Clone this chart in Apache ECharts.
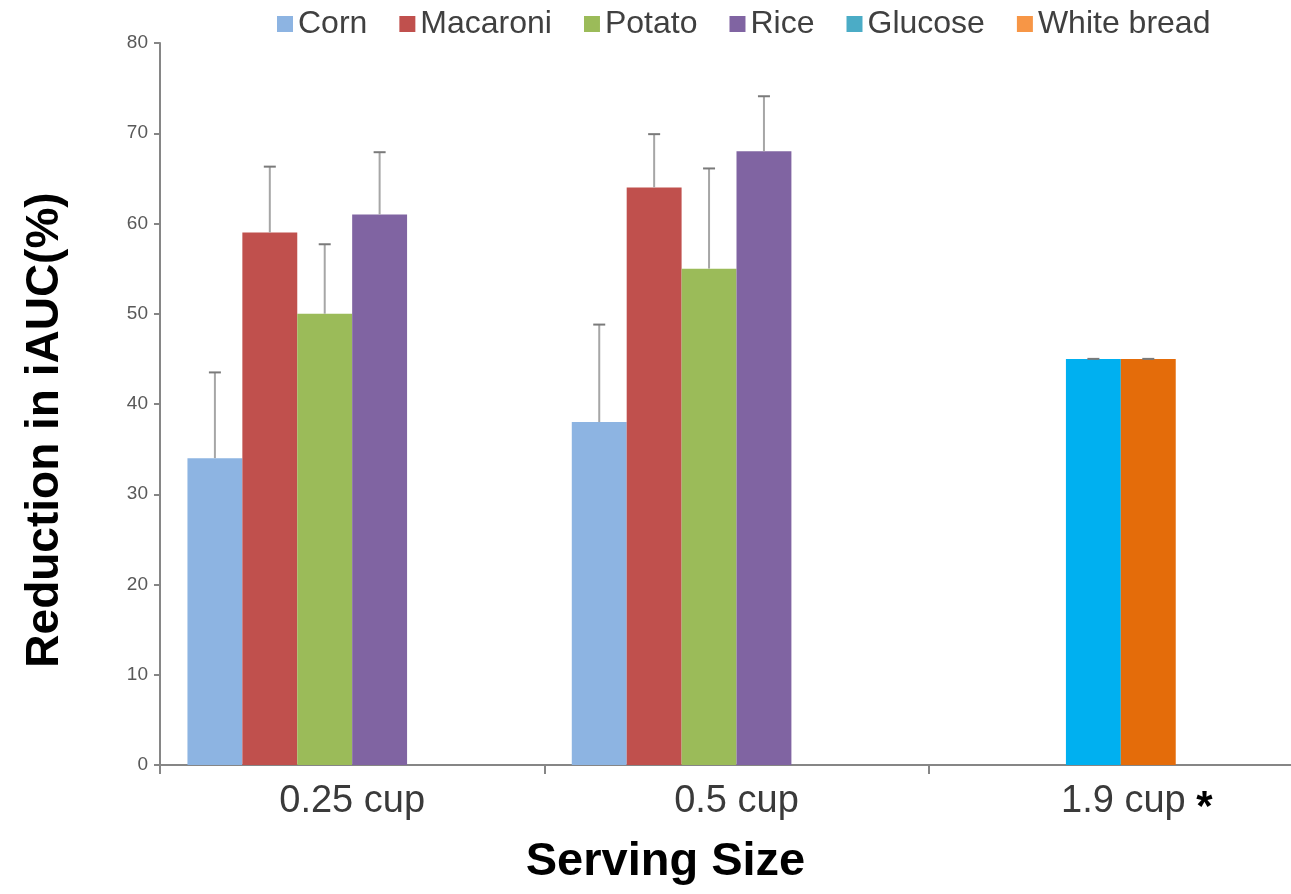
<!DOCTYPE html>
<html>
<head>
<meta charset="utf-8">
<script src="https://cdn.jsdelivr.net/npm/echarts@6/dist/echarts.min.js"></script>
<style>
  html, body { margin: 0; padding: 0; background: #ffffff; }
  #chart { width: 1291px; height: 894px; }
</style>
</head>
<body>
<div id="chart"></div>
<script>
// ---- data ----
const categories = ['0.25 cup', '0.5 cup', '1.9 cup *'];
const seriesNames = ['Corn', 'Macaroni', 'Potato', 'Rice', 'Glucose', 'White bread'];
const cornValues = [34, 38, null];
const cornErrors = [9.5, 10.8, null];
const macaroniValues = [59, 64, null];
const macaroniErrors = [7.3, 5.9, null];
const potatoValues = [50, 55, null];
const potatoErrors = [7.7, 11.1, null];
const riceValues = [61, 68, null];
const riceErrors = [6.9, 6.1, null];
const glucoseValues = [null, null, 45];
const glucoseErrors = [null, null, 0];
const whiteBreadValues = [null, null, 45];
const whiteBreadErrors = [null, null, 0];
const yMin = 0, yMax = 80, yInterval = 10;

// ---- styles ----
const legendColors = ['#8db4e2', '#c0504d', '#9bbb59', '#8064a2', '#4bacc6', '#f79646'];
const barColors = ['#8db4e2', '#c0504d', '#9bbb59', '#8064a2', '#00b0f0', '#e46c0a'];
const FONT = "'Liberation Sans', Arial, sans-serif";

// slot index in each category group (6 slots per group)
const seriesDefs = [
  { name: 'Corn', values: cornValues, errors: cornErrors, slot: 0, stack: 's0' },
  { name: 'Macaroni', values: macaroniValues, errors: macaroniErrors, slot: 1, stack: 's1' },
  { name: 'Potato', values: potatoValues, errors: potatoErrors, slot: 2, stack: 's2' },
  { name: 'Glucose', values: glucoseValues, errors: glucoseErrors, slot: 2, stack: 's2' },
  { name: 'Rice', values: riceValues, errors: riceErrors, slot: 3, stack: 's3' },
  { name: 'White bread', values: whiteBreadValues, errors: whiteBreadErrors, slot: 3, stack: 's3' }
];

const series = [];
const errorData = [];
seriesDefs.forEach(function (d) {
  const idx = seriesNames.indexOf(d.name);
  series.push({
    type: 'bar',
    name: d.name,
    stack: d.stack,
    barGap: '0%',
    barCategoryGap: (100 / 7) + '%',
    itemStyle: { color: legendColors[idx] },
    z: 2,
    data: d.values.map(function (v) {
      return v == null ? null : { value: v, itemStyle: { color: barColors[idx] } };
    })
  });
  d.values.forEach(function (v, ci) {
    if (v != null && d.errors[ci] != null) errorData.push([ci, v, d.errors[ci], d.slot]);
  });
});
// two empty slots (layout placeholders for the 6-slot grouping)
series.push({ type: 'bar', name: '_slot5', stack: 's4', barGap: '0%', barCategoryGap: (100 / 7) + '%', data: [null, null, null] });
series.push({ type: 'bar', name: '_slot6', stack: 's5', barGap: '0%', barCategoryGap: (100 / 7) + '%', data: [null, null, null] });

series.push({
  type: 'custom',
  name: 'errors',
  z: 5,
  silent: true,
  data: errorData,
  renderItem: function (params, api) {
    const cat = api.value(0), v = api.value(1), e = api.value(2), slot = api.value(3);
    const band = api.size([1, 0])[0];
    const base = api.coord([cat, v]);
    const x = base[0] + band * (-0.5 + 1 / 14 + (slot + 0.5) / 7);
    const top = api.coord([cat, v + e])[1];
    const children = [];
    if (e > 0) {
      children.push({ type: 'line', shape: { x1: x, y1: base[1], x2: x, y2: top }, style: { stroke: '#a6a6a6', lineWidth: 2 } });
    }
    children.push({ type: 'line', shape: { x1: x - 6, y1: top, x2: x + 6, y2: top }, style: { stroke: '#7a7a7a', lineWidth: 2 } });
    return { type: 'group', children: children };
  }
});

const chart = echarts.init(document.getElementById('chart'));
chart.setOption({
  animation: false,
  backgroundColor: '#ffffff',
  textStyle: { fontFamily: FONT },
  legend: {
    data: seriesNames,
    left: 272,
    top: 3,
    itemWidth: 16,
    itemHeight: 16,
    itemGap: 32,
    icon: 'rect',
    textStyle: { fontSize: 32, color: '#404040', fontFamily: FONT }
  },
  grid: { left: 160, top: 43, width: 1153, bottom: 129, containLabel: false, outerBoundsMode: 'none' },
  xAxis: {
    type: 'category',
    data: categories,
    name: 'Serving Size',
    nameLocation: 'middle',
    nameGap: 74,
    nameTextStyle: { fontSize: 47, fontWeight: 'bold', color: '#000', fontFamily: FONT, padding: [0, 142, 0, 0] },
    axisLine: { lineStyle: { color: '#868686', width: 2 } },
    axisTick: { show: true, interval: 0, length: 9, lineStyle: { color: '#868686', width: 2 } },
    axisLabel: {
      interval: 0,
      hideOverlap: false,
      fontSize: 38,
      color: '#3a3a3a',
      margin: 18,
      fontFamily: FONT,
      formatter: function (v) {
        if (v.indexOf(' *') >= 0) return '{pad|}{txt|' + v.replace(' *', ' ') + '}{star|*}';
        return v;
      },
      rich: {
        pad: { width: 32, verticalAlign: 'top' },
        txt: { fontSize: 38, color: '#3a3a3a', verticalAlign: 'top' },
        star: { fontSize: 42, fontWeight: 'bold', color: '#000', padding: [4, 0, 0, 0], verticalAlign: 'top' }
      }
    }
  },
  yAxis: {
    type: 'value',
    min: yMin,
    max: yMax,
    interval: yInterval,
    name: 'Reduction in iAUC(%)',
    nameLocation: 'middle',
    nameGap: 92,
    nameTextStyle: { fontSize: 46, fontWeight: 'bold', color: '#000', fontFamily: FONT, padding: [0, 52, 0, 0] },
    splitLine: { show: false },
    axisLine: { show: true, lineStyle: { color: '#868686', width: 2 } },
    axisTick: { show: true, length: 6, lineStyle: { color: '#868686', width: 2 } },
    axisLabel: { fontSize: 19, color: '#595959', margin: 12, fontFamily: FONT }
  },
  series: series
});
</script>
</body>
</html>
